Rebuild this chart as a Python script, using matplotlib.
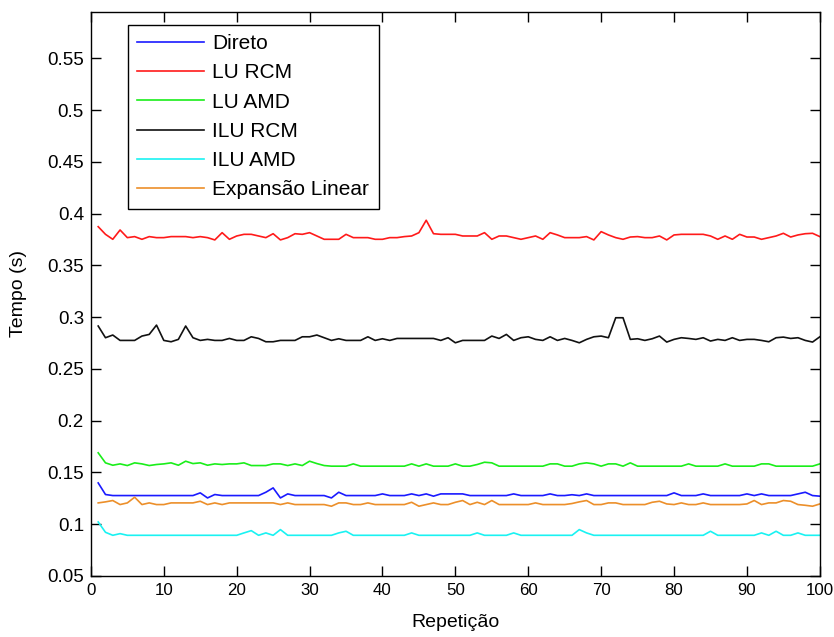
import numpy as np
import matplotlib
matplotlib.use("Agg")
import matplotlib.pyplot as plt
from matplotlib.ticker import FormatStrFormatter

# Repetição 1..100
repeticao = np.arange(1, 101)

direto = [
    0.1399, 0.1287, 0.1277, 0.1277, 0.1277, 0.1277, 0.1277, 0.1277, 0.1277, 0.1277,
    0.1277, 0.1277, 0.1277, 0.1277, 0.1303, 0.1254, 0.1287, 0.1277, 0.1277, 0.1277,
    0.1277, 0.1277, 0.1277, 0.1309, 0.1351, 0.1254, 0.1293, 0.1277, 0.1277, 0.1277,
    0.1277, 0.1277, 0.1254, 0.1309, 0.1277, 0.1277, 0.1277, 0.1277, 0.1277, 0.1293,
    0.1277, 0.1277, 0.1277, 0.1293, 0.1277, 0.1293, 0.1271, 0.1293, 0.1293, 0.1293,
    0.1293, 0.1277, 0.1277, 0.1277, 0.1277, 0.1277, 0.1277, 0.1293, 0.1277, 0.1277,
    0.1277, 0.1277, 0.1293, 0.1277, 0.1277, 0.1285, 0.1277, 0.1293, 0.1277, 0.1277,
    0.1277, 0.1277, 0.1277, 0.1277, 0.1277, 0.1277, 0.1277, 0.1277, 0.1277, 0.1303,
    0.1277, 0.1277, 0.1277, 0.1293, 0.1277, 0.1277, 0.1277, 0.1277, 0.1277, 0.1293,
    0.1277, 0.1293, 0.1277, 0.1277, 0.1277, 0.1277, 0.1293, 0.1309, 0.1277, 0.1271,
]

lu_rcm = [
    0.3875, 0.3801, 0.3753, 0.3843, 0.3769, 0.3779, 0.3753, 0.3779, 0.3769, 0.3769,
    0.3779, 0.3779, 0.3779, 0.3769, 0.3779, 0.3769, 0.3747, 0.3817, 0.3753, 0.3785,
    0.3801, 0.3801, 0.3785, 0.3769, 0.3807, 0.3747, 0.3769, 0.3807, 0.3801, 0.3817,
    0.3785, 0.3753, 0.3753, 0.3753, 0.3801, 0.3769, 0.3769, 0.3769, 0.3753, 0.3753,
    0.3769, 0.3769, 0.3779, 0.3785, 0.3817, 0.3937, 0.3807, 0.3801, 0.3801, 0.3801,
    0.3785, 0.3785, 0.3785, 0.3817, 0.3753, 0.3785, 0.3785, 0.3769, 0.3753, 0.3769,
    0.3785, 0.3753, 0.3817, 0.3795, 0.3769, 0.3769, 0.3769, 0.3779, 0.3747, 0.3827,
    0.3795, 0.3769, 0.3753, 0.3775, 0.3779, 0.3769, 0.3769, 0.3785, 0.3747, 0.3795,
    0.3801, 0.3801, 0.3801, 0.3801, 0.3785, 0.3753, 0.3785, 0.3753, 0.3801, 0.3775,
    0.3775, 0.3753, 0.3769, 0.3785, 0.3811, 0.3775, 0.3795, 0.3807, 0.3811, 0.3779,
]

lu_amd = [
    0.1690, 0.1593, 0.1570, 0.1583, 0.1567, 0.1593, 0.1583, 0.1567, 0.1577, 0.1583,
    0.1593, 0.1570, 0.1609, 0.1586, 0.1593, 0.1570, 0.1583, 0.1577, 0.1583, 0.1583,
    0.1593, 0.1567, 0.1567, 0.1567, 0.1583, 0.1583, 0.1567, 0.1583, 0.1567, 0.1609,
    0.1586, 0.1567, 0.1561, 0.1561, 0.1561, 0.1583, 0.1561, 0.1561, 0.1561, 0.1561,
    0.1561, 0.1561, 0.1561, 0.1583, 0.1561, 0.1583, 0.1561, 0.1561, 0.1561, 0.1583,
    0.1561, 0.1561, 0.1577, 0.1599, 0.1593, 0.1561, 0.1561, 0.1561, 0.1561, 0.1561,
    0.1561, 0.1561, 0.1583, 0.1583, 0.1561, 0.1561, 0.1583, 0.1593, 0.1583, 0.1561,
    0.1583, 0.1583, 0.1561, 0.1593, 0.1561, 0.1561, 0.1561, 0.1561, 0.1561, 0.1561,
    0.1561, 0.1583, 0.1561, 0.1561, 0.1561, 0.1561, 0.1583, 0.1561, 0.1561, 0.1561,
    0.1561, 0.1583, 0.1583, 0.1561, 0.1561, 0.1561, 0.1561, 0.1561, 0.1561, 0.1583,
]

ilu_rcm = [
    0.2915, 0.2802, 0.2828, 0.2776, 0.2776, 0.2776, 0.2818, 0.2834, 0.2924, 0.2776,
    0.2763, 0.2786, 0.2915, 0.2802, 0.2776, 0.2786, 0.2776, 0.2776, 0.2795, 0.2776,
    0.2776, 0.2811, 0.2795, 0.2763, 0.2763, 0.2776, 0.2776, 0.2776, 0.2811, 0.2811,
    0.2828, 0.2802, 0.2776, 0.2792, 0.2776, 0.2776, 0.2776, 0.2811, 0.2776, 0.2792,
    0.2776, 0.2795, 0.2795, 0.2795, 0.2795, 0.2795, 0.2795, 0.2776, 0.2802, 0.2753,
    0.2776, 0.2776, 0.2776, 0.2776, 0.2818, 0.2795, 0.2834, 0.2776, 0.2802, 0.2811,
    0.2786, 0.2776, 0.2811, 0.2776, 0.2795, 0.2776, 0.2753, 0.2786, 0.2811, 0.2818,
    0.2802, 0.2995, 0.2995, 0.2786, 0.2792, 0.2776, 0.2792, 0.2818, 0.2760, 0.2786,
    0.2802, 0.2795, 0.2786, 0.2802, 0.2770, 0.2786, 0.2776, 0.2802, 0.2776, 0.2786,
    0.2786, 0.2776, 0.2763, 0.2802, 0.2808, 0.2795, 0.2802, 0.2776, 0.2760, 0.2811,
]

ilu_amd = [
    0.1022, 0.0922, 0.0893, 0.0909, 0.0893, 0.0893, 0.0893, 0.0893, 0.0893, 0.0893,
    0.0893, 0.0893, 0.0893, 0.0893, 0.0893, 0.0893, 0.0893, 0.0893, 0.0893, 0.0893,
    0.0916, 0.0938, 0.0893, 0.0916, 0.0893, 0.0948, 0.0893, 0.0893, 0.0893, 0.0893,
    0.0893, 0.0893, 0.0893, 0.0916, 0.0932, 0.0893, 0.0893, 0.0893, 0.0893, 0.0893,
    0.0893, 0.0893, 0.0893, 0.0916, 0.0893, 0.0893, 0.0893, 0.0893, 0.0893, 0.0893,
    0.0893, 0.0893, 0.0916, 0.0893, 0.0893, 0.0893, 0.0893, 0.0916, 0.0893, 0.0893,
    0.0893, 0.0893, 0.0893, 0.0893, 0.0893, 0.0893, 0.0948, 0.0916, 0.0893, 0.0893,
    0.0893, 0.0893, 0.0893, 0.0893, 0.0893, 0.0893, 0.0893, 0.0893, 0.0893, 0.0893,
    0.0893, 0.0893, 0.0893, 0.0893, 0.0932, 0.0893, 0.0893, 0.0893, 0.0893, 0.0893,
    0.0893, 0.0916, 0.0893, 0.0932, 0.0893, 0.0893, 0.0916, 0.0893, 0.0893, 0.0893,
]

expansao_linear = [
    0.1206, 0.1216, 0.1229, 0.1190, 0.1206, 0.1261, 0.1190, 0.1206, 0.1190, 0.1190,
    0.1206, 0.1206, 0.1206, 0.1206, 0.1222, 0.1190, 0.1206, 0.1190, 0.1206, 0.1206,
    0.1206, 0.1206, 0.1206, 0.1206, 0.1206, 0.1190, 0.1206, 0.1190, 0.1190, 0.1190,
    0.1190, 0.1190, 0.1174, 0.1206, 0.1206, 0.1190, 0.1190, 0.1206, 0.1190, 0.1190,
    0.1190, 0.1190, 0.1190, 0.1212, 0.1174, 0.1190, 0.1206, 0.1190, 0.1190, 0.1212,
    0.1229, 0.1190, 0.1212, 0.1190, 0.1229, 0.1190, 0.1190, 0.1190, 0.1190, 0.1190,
    0.1206, 0.1190, 0.1190, 0.1190, 0.1190, 0.1200, 0.1216, 0.1229, 0.1190, 0.1190,
    0.1206, 0.1206, 0.1190, 0.1190, 0.1190, 0.1190, 0.1212, 0.1222, 0.1196, 0.1190,
    0.1206, 0.1190, 0.1190, 0.1206, 0.1190, 0.1190, 0.1190, 0.1190, 0.1190, 0.1196,
    0.1229, 0.1190, 0.1206, 0.1206, 0.1229, 0.1222, 0.1190, 0.1183, 0.1174, 0.1196,
]

series = [
    ('Direto', direto, '#1a1aff'),
    ('LU RCM', lu_rcm, '#ff1a1a'),
    ('LU AMD', lu_amd, '#1aee1a'),
    ('ILU RCM', ilu_rcm, '#111111'),
    ('ILU AMD', ilu_amd, '#1af2f2'),
    ('Expansão Linear', expansao_linear, '#ec8f2a'),
]

plt.rcParams['font.family'] = ['Liberation Sans', 'DejaVu Sans']
fig = plt.figure(figsize=(8.34, 6.37), dpi=100)
ax = fig.add_axes([0.109, 0.0958, 0.874, 0.8855])

for name, vals, color in series:
    ax.plot(repeticao, vals, color=color, linewidth=1.2, label=name)

ax.set_xlim(0, 100)
ax.set_ylim(0.05, 0.595)
ax.set_xticks(np.arange(0, 101, 10))
ax.set_yticks(np.arange(0.05, 0.56, 0.05))
ax.yaxis.set_major_formatter(FormatStrFormatter('%g'))
ax.tick_params(direction='in', length=7, width=1, top=True, right=True,
               colors='black', pad=5)
ax.tick_params(axis='x', labelsize=12.2)
ax.tick_params(axis='y', labelsize=13.5)
for sp in ax.spines.values():
    sp.set_linewidth(1.0)

ax.set_xlabel('Repetição', fontsize=14)
ax.set_ylabel('Tempo (s)', fontsize=14)
ax.xaxis.set_label_coords(0.5, -0.068)
ax.yaxis.set_label_coords(-0.088, 0.5)

leg = ax.legend(loc='upper left', bbox_to_anchor=(0.051, 0.977), borderaxespad=0,
                fontsize=15, handlelength=3.2, handletextpad=0.4,
                labelspacing=0.49, fancybox=False, framealpha=1, borderpad=0.45)
leg.get_frame().set_edgecolor('black')
leg.get_frame().set_linewidth(1.0)

fig.savefig('out.png', dpi=100, facecolor='white')
